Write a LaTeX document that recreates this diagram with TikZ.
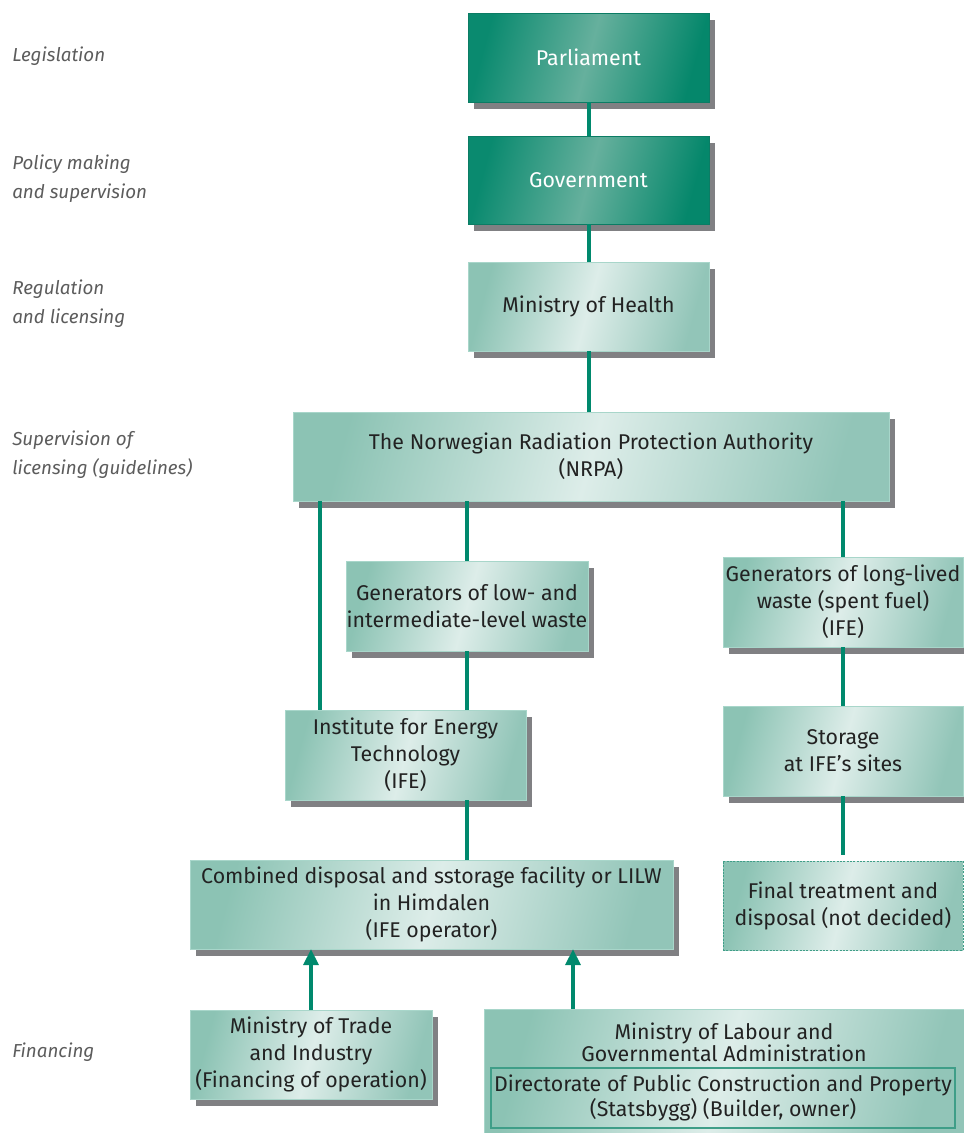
\documentclass[tikz,border=0pt]{standalone}
\usepackage{fontspec}
\setmainfont{Fira Sans}
\usetikzlibrary{arrows.meta,shadows}
\definecolor{conncol}{HTML}{00896D}
\definecolor{lightA}{HTML}{8CC3B4}
\definecolor{lightM}{HTML}{DDEDE9}
\definecolor{lightB}{HTML}{92C5B8}
\definecolor{lightE}{HTML}{A8D6CA}
\definecolor{darkA}{HTML}{0A8A6F}
\definecolor{darkM}{HTML}{66B09D}
\definecolor{darkB}{HTML}{05876B}
\definecolor{darkE}{HTML}{0B7C64}
\definecolor{shgray}{HTML}{808083}
\definecolor{txt}{HTML}{222222}
\definecolor{labgray}{HTML}{5C5C5C}
\definecolor{innerE}{HTML}{3F9E88}
\begin{document}
\begin{tikzpicture}[x=0.75pt,y=-0.75pt,
  box/.style={rectangle, inner sep=0pt, outer sep=0pt, align=center,
    font=\fontsize{16}{20.25}\selectfont, text=txt},
  light/.style={box, left color=lightA, right color=lightB, middle color=lightM,
    shading angle=75, draw=lightE, line width=0.75pt},
  dark/.style={box, left color=darkA, right color=darkB, middle color=darkM,
    shading angle=75, draw=darkE, line width=0.75pt, text=white},
  shad/.style={general shadow={fill=shgray, shadow xshift=4.5pt, shadow yshift=-5.5pt}},
  conn/.style={draw=conncol, line width=3pt},
  arr/.style={conn, -{Triangle[length=12pt,width=11pt]}},
  lab/.style={anchor=west, align=left, inner sep=0pt,
    font=\fontsize{14.1}{21.75}\selectfont\itshape, text=labgray}]
\useasboundingbox (0,0) rectangle (964,1133);

% left labels
\node[lab] (l1) at (12,56) {Legislation};
\node[lab] (l2) at (12,179) {Policy making\\and supervision};
\node[lab] (l3) at (12,303.5) {Regulation\\and licensing};
\node[lab] (l4) at (12,454.5) {Supervision of\\licensing (guidelines)};
\node[lab] (l5) at (12,1052) {Financing};

% boxes
\node[dark,shad,minimum width=180.75pt,minimum height=66.75pt] (parl) at (588.5,57.5) {Parliament};
\node[dark,shad,minimum width=180.75pt,minimum height=66pt] (gov) at (588.5,180) {Government};
\node[light,shad,minimum width=180.75pt,minimum height=66.75pt] (health) at (588.5,306.5) {Ministry of Health};
\node[light,shad,minimum width=447pt,minimum height=66.75pt] (nrpa) at (591,456.5) {The Norwegian Radiation Protection Authority\\(NRPA)};
\node[light,shad,minimum width=181.5pt,minimum height=67.5pt] (genlow) at (467,606) {Generators of low- and\\intermediate-level waste};
\node[light,shad,minimum width=180pt,minimum height=67.5pt] (genlong) at (843,602) {Generators of long-lived\\waste (spent fuel)\\(IFE)};
\node[light,shad,minimum width=180.75pt,minimum height=67.5pt] (ife) at (405.5,755) {Institute for Energy\\Technology\\(IFE)};
\node[light,shad,minimum width=180pt,minimum height=67.5pt] (stor) at (843,751) {Storage\\at IFE’s sites};
\node[light,shad,minimum width=362.25pt,minimum height=66.75pt] (comb) at (431.5,904.5) {Combined disposal and sstorage facility or LILW\\in Himdalen\\(IFE operator)};
\node[light,draw=innerE,dash pattern=on 1.5pt off 1pt,minimum width=180pt,minimum height=66.75pt] (final) at (843,905.5) {Final treatment and\\disposal (not decided)};
\node[light,shad,minimum width=181.5pt,minimum height=66.75pt] (trade) at (311,1054.5) {Ministry of Trade\\and Industry\\(Financing of operation)};
\node[light,minimum width=360pt,minimum height=93pt] (labour) at (724,1071) {};
\node[box,font=\fontsize{16}{16.5}\selectfont] (labt) at (724,1042) {Ministry of Labour and\\Governmental Administration};
\node[box,draw=innerE,line width=1pt,minimum width=348pt,minimum height=45pt,font=\fontsize{16}{18.75}\selectfont] (inner) at (723,1098) {Directorate of Public Construction and Property\\(Statsbygg) (Builder, owner)};

% connectors
\coordinate (x320) at (320,0);
\coordinate (x311) at (311,0);
\coordinate (x573) at (573,0);
\draw[conn] (parl.south) -- (gov.north);
\draw[conn] (gov.south) -- (health.north);
\draw[conn] (health.south) -- (health.south |- nrpa.north);
\draw[conn] (nrpa.south -| x320) -- (ife.north -| x320);
\draw[conn] (nrpa.south -| genlow.north) -- (genlow.north);
\draw[conn] (genlow.south) -- (ife.north -| genlow.south);
\draw[conn] (ife.south -| genlow.south) -- (comb.north -| genlow.south);
\draw[conn] (nrpa.south -| genlong.north) -- (genlong.north);
\draw[conn] (genlong.south) -- (stor.north);
\draw[conn] (stor.south) -- ([yshift=4.5pt]final.north);
\draw[arr] (trade.north -| x311) -- (comb.south -| x311);
\draw[arr] (labour.north -| x573) -- (comb.south -| x573);
\end{tikzpicture}
\end{document}
